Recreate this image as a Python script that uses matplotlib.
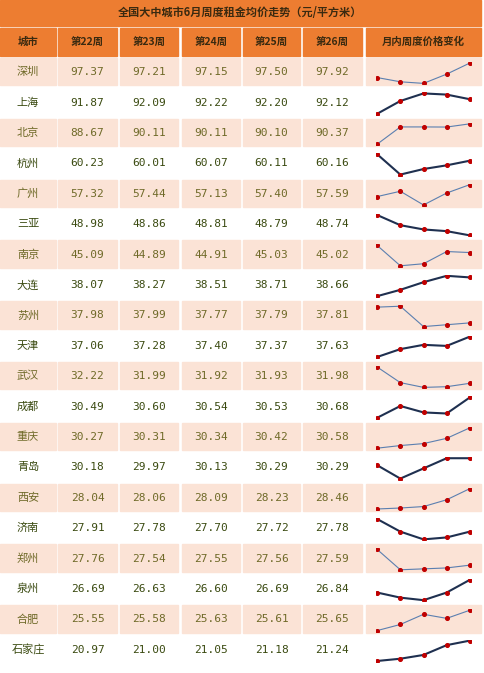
import matplotlib
matplotlib.use("Agg")
import matplotlib.pyplot as plt
from matplotlib.patches import Rectangle

plt.rcParams['font.family'] = ['Noto Sans CJK SC', 'DejaVu Sans']

title = "全国大中城市6月周度租金均价走势（元/平方米）"
headers = ["城市", "第22周", "第23周", "第24周", "第25周", "第26周", "月内周度价格变化"]
cities = ["深圳", "上海", "北京", "杭州", "广州", "三亚", "南京", "大连", "苏州", "天津",
          "武汉", "成都", "重庆", "青岛", "西安", "济南", "郑州", "泉州", "合肥", "石家庄"]
w22 = [97.37, 91.87, 88.67, 60.23, 57.32, 48.98, 45.09, 38.07, 37.98, 37.06,
       32.22, 30.49, 30.27, 30.18, 28.04, 27.91, 27.76, 26.69, 25.55, 20.97]
w23 = [97.21, 92.09, 90.11, 60.01, 57.44, 48.86, 44.89, 38.27, 37.99, 37.28,
       31.99, 30.60, 30.31, 29.97, 28.06, 27.78, 27.54, 26.63, 25.58, 21.00]
w24 = [97.15, 92.22, 90.11, 60.07, 57.13, 48.81, 44.91, 38.51, 37.77, 37.40,
       31.92, 30.54, 30.34, 30.13, 28.09, 27.70, 27.55, 26.60, 25.63, 21.05]
w25 = [97.50, 92.20, 90.10, 60.11, 57.40, 48.79, 45.03, 38.71, 37.79, 37.37,
       31.93, 30.53, 30.42, 30.29, 28.23, 27.72, 27.56, 26.69, 25.61, 21.18]
w26 = [97.92, 92.12, 90.37, 60.16, 57.59, 48.74, 45.02, 38.66, 37.81, 37.63,
       31.98, 30.68, 30.58, 30.29, 28.46, 27.78, 27.59, 26.84, 25.65, 21.24]
weeks = list(zip(w22, w23, w24, w25, w26))

W, H = 484, 673
fig = plt.figure(figsize=(W / 100, H / 100), dpi=100)
ax = fig.add_axes([0, 0, 1, 1])
ax.set_xlim(0, W)
ax.set_ylim(H, 0)
ax.axis('off')

orange = '#ED7D31'
shade = '#FBE3D6'
cols = [(0, 56), (58, 117), (120, 178), (182, 240), (243, 300), (303, 362), (366, 481)]

ax.add_patch(Rectangle((0, 0), 481, 26, color=orange))
ax.text(240, 13, title, ha='center', va='center', fontsize=8, fontweight='bold', color='#3A2A10')
for (x0, x1), h in zip(cols, headers):
    ax.add_patch(Rectangle((x0, 28), x1 - x0, 28, color=orange))
    ax.text((x0 + x1) / 2, 42, h, ha='center', va='center', fontsize=7.5,
            fontweight='bold', color='#3A2A10')

y0, pitch = 58, 30.4
for i, city in enumerate(cities):
    top = y0 + i * pitch
    cy = top + pitch / 2 - 1
    shaded = i % 2 == 0
    tc = '#6F6A28' if shaded else '#3A4A10'
    for (x0, x1) in cols:
        if shaded:
            ax.add_patch(Rectangle((x0, top), x1 - x0, pitch - 3, color=shade))
    ax.text(28, cy, city, ha='center', va='center', fontsize=8, color=tc)
    for (x0, x1), v in zip(cols[1:6], weeks[i]):
        ax.text((x0 + x1) / 2, cy, f"{v:.2f}", ha='center', va='center',
                fontsize=8, color=tc, family='DejaVu Sans Mono')
    # sparkline
    sx = fig.add_axes([376 / W, 1 - (top + pitch - 4) / H, 95 / W, (pitch - 8) / H])
    sx.axis('off')
    vals = weeks[i]
    lc = '#5B7FB0' if shaded else '#1F3050'
    lw = 0.8 if shaded else 1.5
    sx.plot(range(5), vals, color=lc, lw=lw, zorder=1)
    sx.scatter(range(5), vals, s=7, color='#C00000', zorder=2)
    sx.set_xlim(-0.05, 4.05)
    lo, hi = min(vals), max(vals)
    pad = (hi - lo) * 0.05 or 0.01
    sx.set_ylim(lo - pad, hi + pad)

fig.savefig("out.png", dpi=100)
